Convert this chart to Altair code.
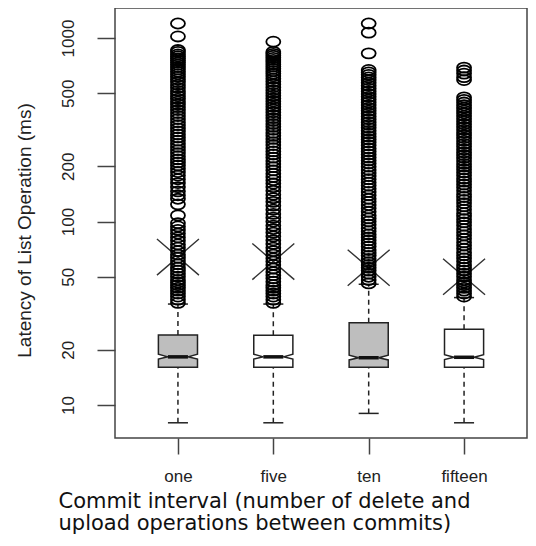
import altair as alt
import pandas as pd

# ---------------- data ----------------
categories = ["one", "five", "ten", "fifteen"]
q1 = [16.05, 16.05, 16.05, 16.05]
median = [18.3, 18.3, 18.1, 18.2]
q3 = [24.1, 24.0, 28.1, 25.9]
notch_lo = [17.8, 17.8, 17.6, 17.7]
notch_hi = [18.9, 18.9, 18.7, 18.8]
whisk_lo = [8.0, 8.0, 9.0, 8.0]
whisk_hi = [35.5, 35.5, 45.5, 38.5]
means = [64, 60.5, 56, 50]
box_fill = ["#bebebe", "#ffffff", "#bebebe", "#ffffff"]

out_one = [1200, 1020, 860, 840, 815, 795, 775, 755, 735, 715, 695, 675, 655, 635,
           615, 595, 575, 555, 535, 515, 498, 482, 466, 450, 435, 420, 405, 390, 376,
           362, 348, 335, 322, 310, 298, 287, 276, 265, 255, 245, 236, 227, 218, 210,
           202, 194, 186, 178, 170, 162, 154, 146, 139, 133, 124, 108, 98, 94, 90, 86,
           82, 78.5, 75, 72, 69, 66, 63.5, 61, 58.5, 56, 54, 52, 50, 48, 46.5, 45,
           43.5, 42, 40.5, 39, 37.5, 36]
out_five = [955, 840, 820, 800, 780, 760, 740, 720, 700, 680, 660, 640, 620, 600, 580,
            560, 540, 520, 502, 485, 468, 452, 437, 422, 408, 394, 380, 366, 353, 340,
            328, 316, 304, 293, 282, 271, 261, 251, 241, 232, 223, 214, 206, 198, 190,
            182, 175, 168, 161, 154, 147, 140, 134, 128, 122, 116, 110, 105, 100, 95,
            91, 87, 83, 79, 75.5, 72, 69, 66, 63, 60.5, 58, 55.5, 53, 51, 49, 47, 45,
            43.5, 42, 40.5, 39, 37.5, 36]
out_ten = [1200, 1070, 825, 670, 650, 630, 610, 590, 570, 550, 530, 512, 495, 478, 462,
           446, 431, 416, 402, 388, 374, 361, 348, 336, 324, 312, 301, 290, 280, 270,
           260, 250, 241, 232, 223, 215, 207, 199, 191, 184, 177, 170, 163, 157, 151,
           145, 139, 133, 128, 123, 118, 113, 108, 104, 100, 96, 92, 88.5, 85, 82, 79,
           76, 73, 70, 67.5, 65, 62.5, 60, 58, 56, 54, 52, 50, 48, 46]
out_fifteen = [690, 665, 640, 612, 590, 475, 460, 445, 430, 416, 402, 389, 376, 363,
               351, 339, 327, 316, 305, 295, 285, 275, 265, 256, 247, 238, 230, 222,
               214, 206, 199, 192, 185, 178, 171, 165, 159, 153, 147, 141, 136, 131,
               126, 121, 116, 111, 107, 103, 99, 95, 91, 87.5, 84, 80.5, 77, 74, 71, 68,
               65.5, 63, 60.5, 58, 56, 54, 52, 50, 48, 46.5, 45, 43.5, 42, 40.5, 39]
outliers = [out_one, out_five, out_ten, out_fifteen]

y_ticks = [10, 20, 50, 100, 200, 500, 1000]

# ---------------- tables built from the arrays ----------------
BOX_HW = 0.205
CAP_HW = 0.105

stats = pd.DataFrame({
    "grp": categories, "pos": list(range(1, len(categories) + 1)),
    "q1": q1, "med": median, "q3": q3, "wlo": whisk_lo, "whi": whisk_hi, "mean": means,
})
stats["cl"] = stats["pos"] - CAP_HW
stats["cr"] = stats["pos"] + CAP_HW

box_rows = []
for i, c in enumerate(categories):
    p = i + 1
    for yv, hw in [(q1[i], BOX_HW), (notch_lo[i], BOX_HW), (median[i], CAP_HW),
                   (notch_hi[i], BOX_HW), (q3[i], BOX_HW)]:
        box_rows.append({"grp": c, "yv": yv, "xl": p - hw, "xr": p + hw, "fill": box_fill[i]})
boxes = pd.DataFrame(box_rows)

out_rows = []
for i, c in enumerate(categories):
    for v in outliers[i]:
        out_rows.append({"grp": c, "pos": i + 1, "val": v})
outs = pd.DataFrame(out_rows)

# ---------------- scales and axes ----------------
yscale = alt.Scale(type="log", domain=[6.61, 1457.5], nice=False, zero=False)
xscale = alt.Scale(domain=[0.34, 4.66], nice=False, zero=False)

label_list = "[''," + ",".join("'%s'" % c for c in categories) + "]"

yaxis = alt.Axis(
    values=y_ticks, format="d", grid=False, domain=False,
    title="Latency of List Operation (ms)", titleFont="Liberation Sans", titleFontSize=19,
    titleFontWeight="normal", titleColor="#222", titleAngle=270, titleX=-91, titleY=222,
    titleAlign="center", titleBaseline="middle",
    labelAngle=270, labelAlign="center", labelBaseline="middle", labelFont="Liberation Sans",
    labelFontSize=17, labelColor="#222", labelPadding=29, labelOverlap=False, labelFlush=False,
    tickSize=18, tickColor="#444", tickWidth=1.5,
)
xaxis = alt.Axis(
    values=list(range(1, len(categories) + 1)), labelExpr=label_list + "[datum.value]",
    grid=False, domain=False,
    title=["Commit interval (number of delete and", "upload operations between commits)"],
    titleFont="DejaVu Sans", titleFontSize=21, titleFontWeight="normal", titleColor="#111",
    titleAlign="left", titleAnchor="start", titleX=-57, titleY=69, titleBaseline="alphabetic",
    titleLineHeight=22,
    labelFont="Liberation Sans", labelFontSize=17, labelColor="#222", labelBaseline="alphabetic",
    labelPadding=27, labelOverlap=False, labelFlush=False,
    tickSize=16, tickColor="#444", tickWidth=1.5,
)


def X(f):
    return alt.X(f, type="quantitative", scale=xscale, axis=xaxis)


def Y(f):
    return alt.Y(f, type="quantitative", scale=yscale, axis=yaxis)


whisk_low = alt.Chart(stats).mark_rule(color="#222", strokeWidth=1.5, strokeDash=[5, 4]).encode(
    x=X("pos"), y=Y("wlo"), y2="q1")
whisk_high = alt.Chart(stats).mark_rule(color="#222", strokeWidth=1.5, strokeDash=[5, 4]).encode(
    x=X("pos"), y=Y("q3"), y2="whi")
cap_low = alt.Chart(stats).mark_rule(color="#222", strokeWidth=1.5).encode(
    x=X("cl"), x2="cr", y=Y("wlo"))
cap_high = alt.Chart(stats).mark_rule(color="#222", strokeWidth=1.5).encode(
    x=X("cl"), x2="cr", y=Y("whi"))
box = alt.Chart(boxes).mark_area(orient="horizontal", stroke="#222", strokeWidth=1.5,
                                 interpolate="linear").encode(
    y=Y("yv"), x=X("xl"), x2="xr", detail="grp:N", fill=alt.Fill("fill:N", scale=None))
med = alt.Chart(stats).mark_rule(color="#111", strokeWidth=3.5).encode(
    x=X("cl"), x2="cr", y=Y("med"))
mean_x = alt.Chart(stats).mark_point(
    shape="M -1 -0.86 L 1 0.86 M -1 0.86 L 1 -0.86", size=1764, filled=False,
    stroke="#333", strokeWidth=1.4, opacity=1).encode(x=X("pos"), y=Y("mean"))
pts = alt.Chart(outs).mark_point(
    shape="M -1 0 A 1 0.72 0 1 1 1 0 A 1 0.72 0 1 1 -1 0 Z", size=196, filled=False,
    stroke="#000", strokeWidth=1.8, opacity=1).encode(x=X("pos"), y=Y("val"))

chart = alt.layer(whisk_low, whisk_high, cap_low, cap_high, box, med, mean_x, pts).properties(
    width=412, height=430,
    autosize=alt.AutoSizeParams(type="none"),
    padding={"left": 107, "top": 0, "right": 1, "bottom": 100},
    background="white",
).configure_view(stroke="#444", strokeWidth=1.5)

chart.save("out.html", embed_options={"renderer": "svg", "actions": False})
